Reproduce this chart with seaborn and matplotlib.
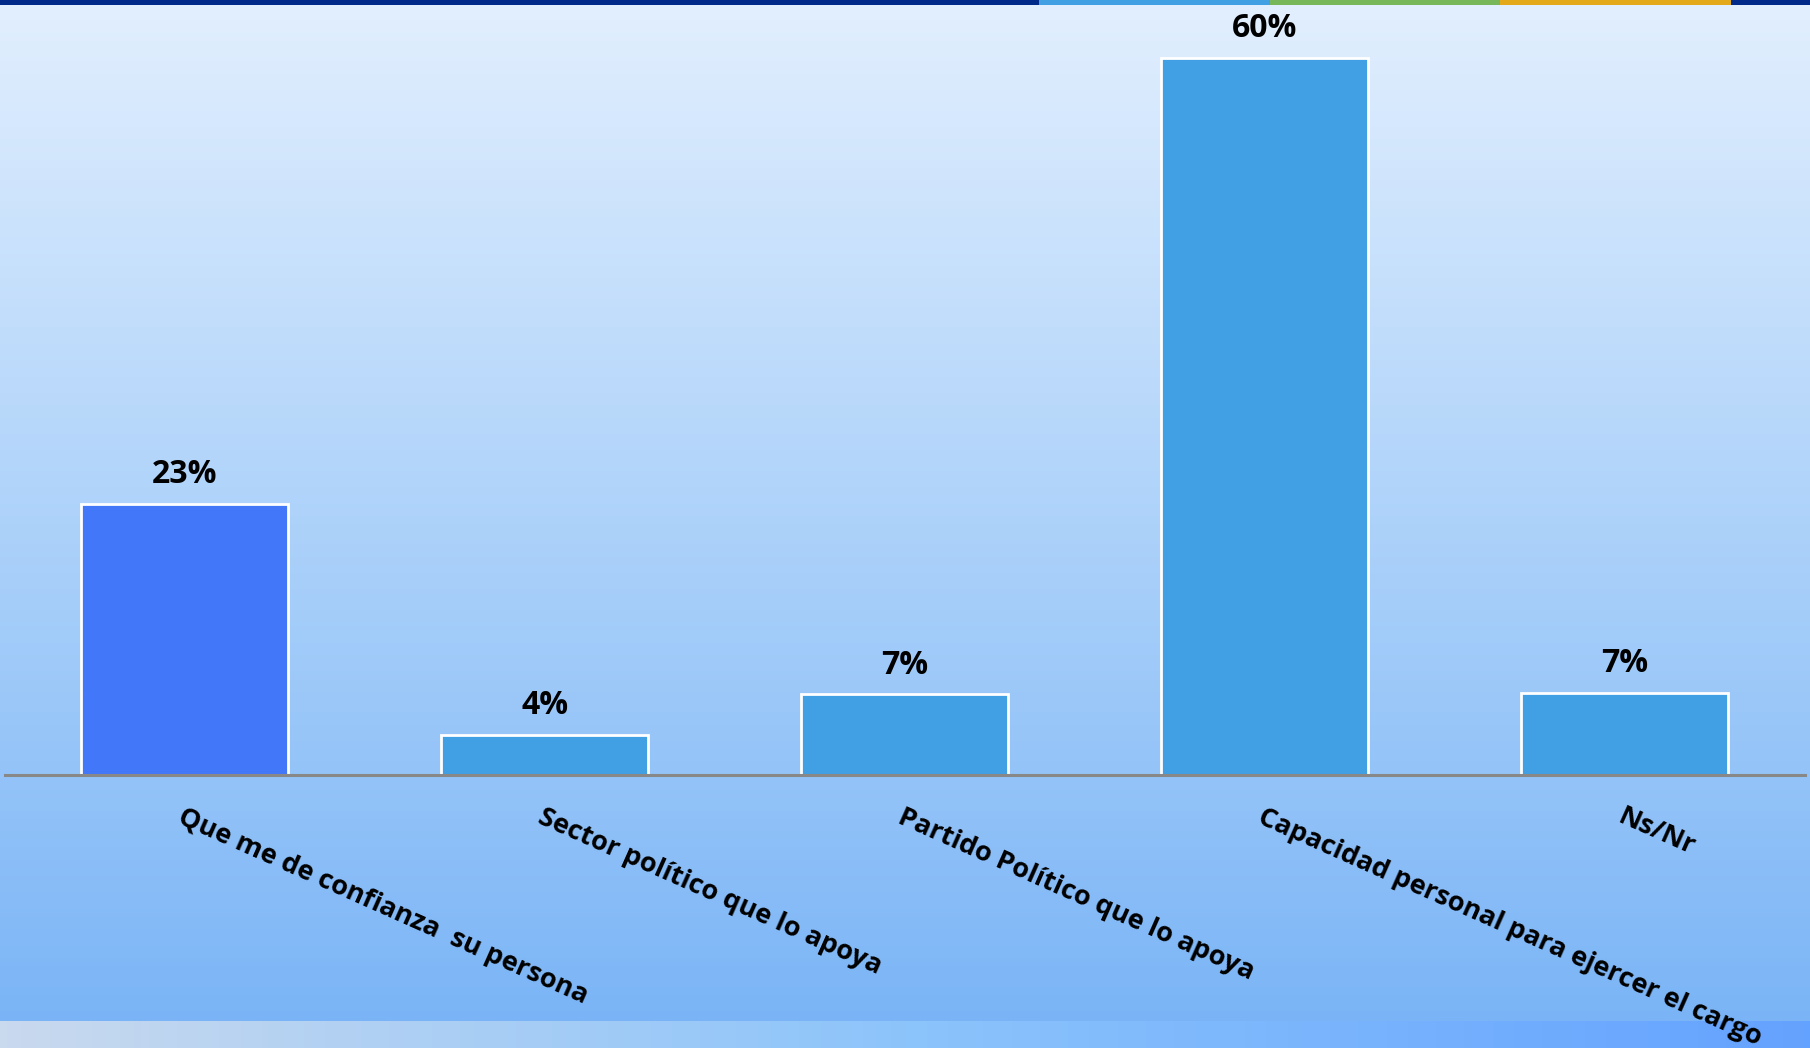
import numpy as np
import seaborn as sns
import matplotlib.pyplot as plt
from matplotlib.colors import LinearSegmentedColormap
from matplotlib.patches import Rectangle

# Datos del gráfico
categorias = ['Que me de confianza  su persona', 'Sector político que lo apoya',
              'Partido Político que lo apoya', 'Capacidad personal para ejercer el cargo', 'Ns/Nr']
valores = [22.9, 3.4, 6.8, 60.5, 6.9]
etiquetas = ['23%', '4%', '7%', '60%', '7%']
colores = ['#4277F9', '#419FE4', '#419FE4', '#419FE4', '#419FE4']

sns.set_style('white')
plt.rcParams['font.family'] = ['Open Sans', 'DejaVu Sans']

fig = plt.figure(figsize=(18.1, 10.48), dpi=100)

# Fondo con degradado vertical
bg = fig.add_axes([0, 0, 1, 1], zorder=0)
cmap_v = LinearSegmentedColormap.from_list('v', ['#E2EFFE', '#ADD2FA', '#78B3F6'])
bg.imshow(np.linspace(0, 1, 256).reshape(-1, 1), aspect='auto', cmap=cmap_v,
          extent=[0, 1, 0, 1], transform=bg.transAxes)
bg.set_xlim(0, 1)
bg.set_ylim(0, 1)
bg.axis('off')

# Franja inferior con degradado horizontal
cmap_h = LinearSegmentedColormap.from_list('h', ['#C9D9EE', '#8CC4FB', '#64A2FF'])
bg.imshow(np.linspace(0, 1, 256).reshape(1, -1), aspect='auto', cmap=cmap_h,
          extent=[0, 1, 0, 27 / 1048])

# Franja superior de colores
for x0, x1, c in [(0, 1039, '#002A8A'), (1039, 1270, '#41A0E4'), (1270, 1500, '#77B75A'),
                  (1500, 1731, '#E4A91B'), (1731, 1810, '#002A8A')]:
    bg.add_patch(Rectangle((x0 / 1810, 1 - 5 / 1048), (x1 - x0) / 1810, 5 / 1048,
                           color=c, lw=0, transform=bg.transAxes))

# Gráfico de barras
ax = fig.add_axes([4.6 / 1810, 273 / 1048, 1800 / 1810, 65 * 11.85 / 1048], zorder=1)
ax.patch.set_alpha(0)
sns.barplot(x=categorias, y=valores, hue=categorias, palette=colores, legend=False,
            width=0.574, edgecolor='white', linewidth=2, saturation=1, ax=ax)
ax.set_ylim(0, 65)
ax.set_xlim(-0.5, 4.5)

for i, (v, t) in enumerate(zip(valores, etiquetas)):
    ax.annotate(t, (i, v), xytext=(0, 15), textcoords='offset points',
                ha='center', va='baseline', fontsize=23, fontweight='bold', color='black')

ax.set_yticks([])
ax.set_xticks(range(len(categorias)))
ax.set_xticklabels(categorias, rotation=-24, ha='left', va='top', rotation_mode='anchor',
                   fontsize=19.5, fontweight='bold', color='black')
ax.tick_params(axis='x', length=0, pad=21)
for s in ['top', 'left', 'right']:
    ax.spines[s].set_visible(False)
ax.spines['bottom'].set_color('#888888')
ax.spines['bottom'].set_linewidth(2.2)
ax.set_xlabel('')
ax.set_ylabel('')

plt.savefig('out.png', dpi=100)
